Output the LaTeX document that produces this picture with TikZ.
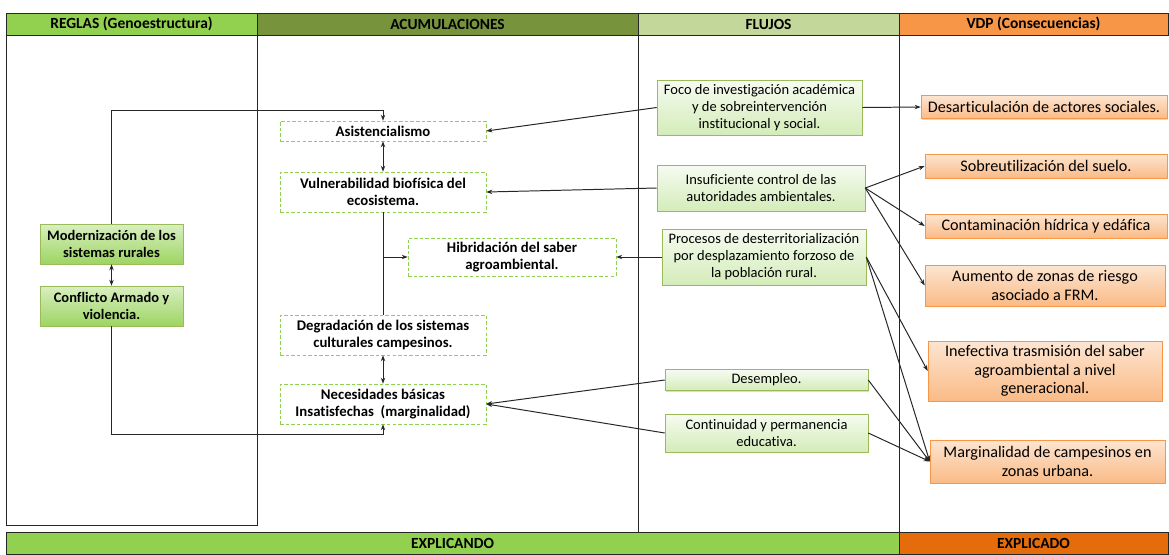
\documentclass[tikz,border=0pt]{standalone}
\usepackage{fontspec}
\setmainfont{Carlito}[Ligatures=NoCommon]
\usepackage{xcolor}
\usetikzlibrary{arrows.meta,positioning,calc,shadows}
\definecolor{lima}{HTML}{92D050}
\definecolor{olivo}{HTML}{77933C}
\definecolor{pasto}{HTML}{C4D79B}
\definecolor{naranja}{HTML}{F79646}
\definecolor{teja}{HTML}{E46C0A}
\definecolor{borde}{HTML}{9BBB59}
\definecolor{linea}{HTML}{262626}

\begin{document}
\begin{tikzpicture}[x=0.025cm,y=-0.025cm,>={Stealth[length=1.5mm,width=1.1mm]},
   sz/.style 2 args={minimum width=#1*0.025cm,minimum height=#2*0.025cm},
   hdr/.style={draw=linea,fill=#1,inner sep=0pt,font=\fontsize{11}{12}\selectfont\bfseries},
   acu/.style={draw=lima,dash pattern=on 2.5pt off 1.5pt,fill=white,align=center,inner sep=0pt,font=\fontsize{10.5}{12.6}\selectfont\bfseries},
   reg/.style={draw=borde,top color=lima!35,bottom color=lima!90,align=center,inner sep=0pt,
      drop shadow={shadow xshift=0.8pt,shadow yshift=-0.8pt,opacity=0.3},font=\fontsize{10.3}{12.6}\selectfont\bfseries},
   flu/.style={draw=borde,top color=lima!8,bottom color=lima!40,align=center,inner sep=0pt,
      drop shadow={shadow xshift=0.8pt,shadow yshift=-0.8pt,opacity=0.3},font=\fontsize{10.3}{12.1}\selectfont},
   vdp/.style={draw=naranja,top color=naranja!25,bottom color=naranja!65,align=center,inner sep=0pt,
      drop shadow={shadow xshift=0.8pt,shadow yshift=-0.8pt,opacity=0.3},font=\fontsize{11.5}{13}\selectfont},
   lnk/.style={draw=linea,line width=0.7pt}]
  \useasboundingbox (0,0) rectangle (1169,554);
  % cabeceras y columnas
  \node[hdr=lima,sz={251}{22}] (hreg) at (131.5,24) {REGLAS (Genoestructura)};
  \node[hdr=olivo,sz={381}{22}] (hacu) at (447.5,24) {ACUMULACIONES};
  \node[hdr=pasto,sz={261}{22}] (hflu) at (768.5,24) {FLUJOS};
  \node[hdr=naranja,sz={269}{22}] (hvdp) at (1033.5,24) {VDP (Consecuencias)};
  \draw[linea,line width=0.6pt] (6,35) rectangle (257,525);
  \draw[linea,line width=0.6pt] (638,35) -- (638,532) (899,35) -- (899,532);
  \node[hdr=lima,sz={893}{22}] (expl) at (452.5,543) {EXPLICANDO};
  \node[hdr=teja,sz={269}{22}] (expd) at (1033.5,543) {EXPLICADO};
  % reglas
  \node[reg,sz={143}{40}] (mod) at (111.5,244) {Modernización de los\\sistemas rurales};
  \node[reg,sz={143}{40}] (cfl) at (111.5,306) {Conflicto Armado y\\violencia.};
  % acumulaciones
  \foreach \nm/\x/\y/\w/\h/\txt in
     {asi/383/131/206/20/{Asistencialismo},
      vul/383/192/206/40/{Vulnerabilidad biofísica del\\ecosistema.},
      hib/512/257/208/38/{Hibridación del saber\\agroambiental.},
      deg/383/335/206/40/{Degradación de los sistemas\\culturales campesinos.},
      nec/383/404/206/40/{Necesidades básicas\\Insatisfechas~ (marginalidad)}}{
     \node[acu,sz={\w}{\h}] (\nm) at (\x,\y) {\txt};}
  % flujos
  \foreach \nm/\x/\y/\w/\h/\txt in
     {foc/759.5/107.5/205/55/{Foco de investigación académica\\y de sobreintervención\\institucional y social.},
      ins/761/188/208/46/{Insuficiente control de las\\autoridades ambientales.},
      pro/764/257/204/56/{Procesos de desterritorialización\\por desplazamiento forzoso de\\la población rural.},
      dse/766.5/380/203/21/{Desempleo.},
      cnt/766.5/433/203/38/{Continuidad y permanencia\\educativa.}}{
     \node[flu,sz={\w}{\h}] (\nm) at (\x,\y) {\txt};}
  % consecuencias
  \foreach \nm/\x/\y/\w/\h/\txt in
     {dea/1044/107/246/23/{Desarticulación de actores sociales.},
      sob/1046/166/242/24/{Sobreutilización del suelo.},
      con/1046/226/242/24/{Contaminación hídrica y edáfica},
      aum/1045/285.5/240/41/{Aumento de zonas de riesgo\\asociado a FRM.},
      ine/1045/371/234/60/{Inefectiva trasmisión del saber\\agroambiental a nivel\\generacional.},
      mar/1047.5/461.5/235/43/{Marginalidad de campesinos en\\zonas urbana.}}{
     \node[vdp,sz={\w}{\h}] (\nm) at (\x,\y) {\txt};}
  % conectores
  \coordinate (lpT) at (111.5,110);
  \coordinate (lpB) at (111.5,434);
  \draw[lnk,->] (mod.north) -- (lpT) -| (asi.north);
  \draw[lnk,->] (cfl.south) -- (lpB) -| (nec.south);
  \draw[lnk,<->] (mod) -- (cfl);
  \draw[lnk,<->] (asi) -- (vul);
  \draw[lnk,<->] (deg) -- (nec);
  \draw[lnk] (vul.south) -- (deg.north);
  \draw[lnk,->] (vul.south |- hib.west) -- (hib.west);
  \draw[lnk,->] (foc.west) -- (asi.east);
  \draw[lnk,->] (foc.east) -- (dea.west);
  \draw[lnk,->] (ins.west) -- (vul.east);
  \draw[lnk,->] (pro.west) -- (hib.east);
  \foreach \t in {sob,con,aum}{
     \draw[lnk,->] (ins.east) -- (\t.west);}
  \foreach \t in {ine,mar}{
     \draw[lnk,->] (pro.east) -- (\t.west);}
  \foreach \s in {dse,cnt}{
     \draw[lnk,->] (\s.west) -- (nec.east);
     \draw[lnk,->] (\s.east) -- (mar.west);}
\end{tikzpicture}
\end{document}
